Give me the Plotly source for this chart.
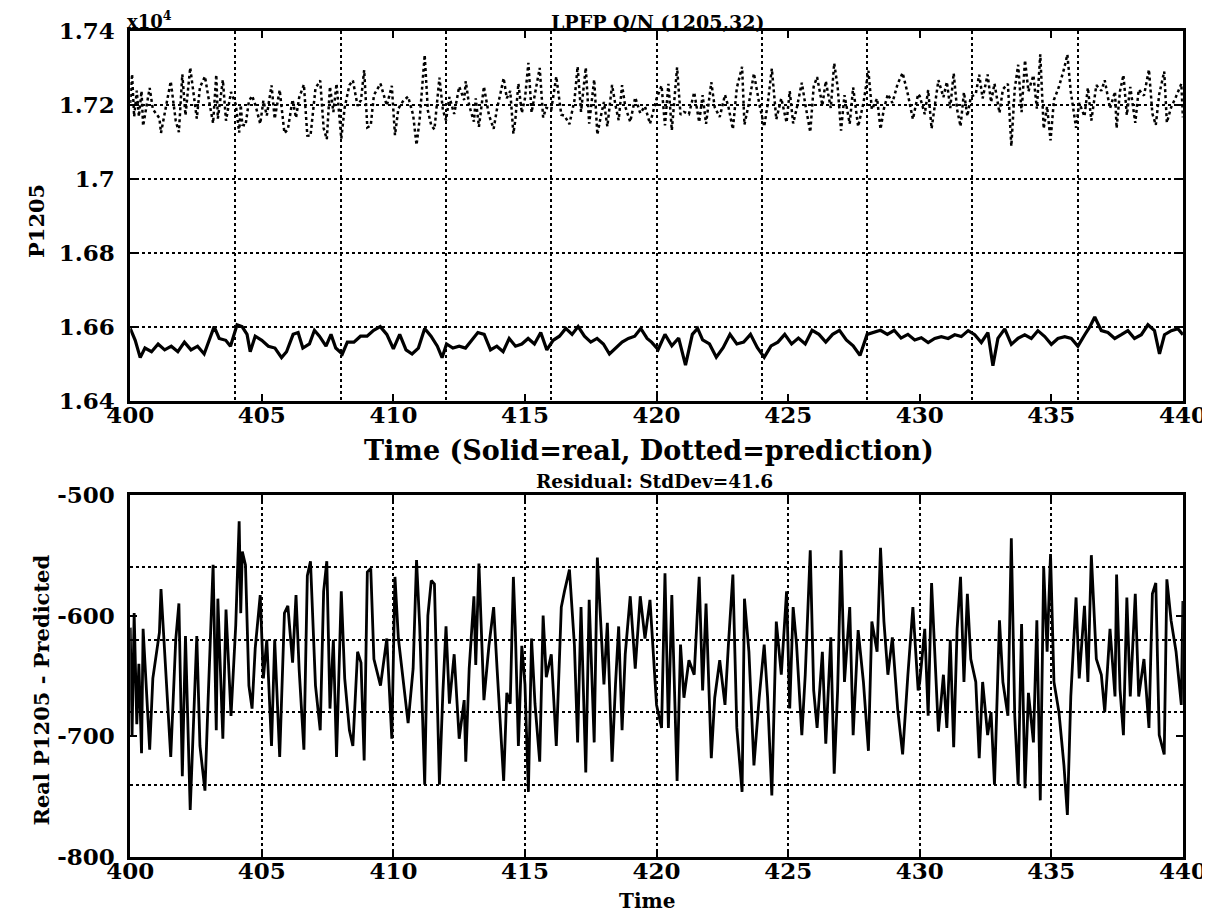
import numpy as np
import plotly.graph_objects as go

# ---------------- data ----------------
# Real P1205 (solid line, top panel): (time, value)
real_400_410 = [(400.00,16595),(400.19,16563),(400.38,16516),(400.56,16542),(400.81,16532),(401.06,16553),
    (401.31,16537),(401.56,16547),(401.81,16532),(402.06,16558),(402.31,16537),(402.56,16547),(402.81,16526),
    (403.06,16574),(403.19,16600),(403.38,16568),(403.63,16563),(403.81,16547),(404.06,16605),(404.25,16600),
    (404.44,16579),(404.56,16532),(404.75,16574),(405.00,16563),(405.25,16547),(405.50,16542),(405.75,16516),
    (405.94,16532),(406.19,16579),(406.38,16584),(406.56,16542),(406.81,16553),(407.00,16590),(407.19,16574),
    (407.44,16547),(407.63,16579),(407.81,16542),(408.06,16526),(408.25,16558),(408.50,16558),(408.75,16574),
    (409.00,16574),(409.25,16590),(409.50,16600),(409.75,16579)]
real_410_420 = [(410.00,16540),(410.24,16579),(410.48,16537),(410.71,16526),(410.95,16542),(411.19,16595),
    (411.43,16574),(411.67,16547),(411.85,16516),(412.02,16553),(412.26,16542),(412.50,16547),(412.74,16542),
    (412.98,16563),(413.21,16584),(413.45,16579),(413.69,16537),(413.93,16547),(414.17,16532),(414.40,16568),
    (414.64,16547),(414.88,16553),(415.12,16568),(415.36,16553),(415.60,16584),(415.83,16537),(416.07,16563),
    (416.31,16574),(416.55,16595),(416.79,16579),(417.02,16600),(417.26,16574),(417.50,16558),(417.74,16568),
    (417.98,16553),(418.21,16526),(418.45,16542),(418.69,16558),(418.93,16568),(419.17,16574),(419.40,16595),
    (419.64,16568),(419.81,16558)]
real_420_430 = [(420.06,16538),(420.32,16579),(420.58,16548),(420.84,16569),(421.10,16496),(421.36,16579),
    (421.56,16595),(421.75,16564),(422.01,16553),(422.27,16517),(422.53,16543),(422.79,16579),(423.05,16553),
    (423.31,16558),(423.57,16579),(423.83,16543),(424.09,16517),(424.35,16548),(424.61,16558),(424.87,16579),
    (425.13,16553),(425.39,16569),(425.65,16553),(425.91,16590),(426.17,16579),(426.43,16558),(426.69,16579),
    (426.95,16590),(427.21,16564),(427.47,16548),(427.73,16522),(428.00,16579),(428.25,16584),(428.51,16590),
    (428.77,16579),(429.03,16590),(429.29,16569),(429.55,16579),(429.81,16564)]
real_430_440 = [(430.06,16570),(430.32,16557),(430.57,16568),(430.82,16573),(431.08,16568),(431.33,16578),
    (431.58,16573),(431.84,16589),(432.09,16578),(432.34,16557),(432.59,16584),(432.78,16494),(432.97,16568),
    (433.23,16594),(433.48,16552),(433.73,16568),(433.99,16578),(434.24,16568),(434.49,16589),(434.75,16573),
    (435.00,16552),(435.25,16568),(435.51,16573),(435.76,16568),(436.01,16547),(436.27,16578),(436.46,16599),
    (436.65,16626),(436.90,16589),(437.15,16584),(437.41,16568),(437.66,16578),(437.91,16589),(438.16,16568),
    (438.42,16578),(438.67,16605),(438.92,16589),(439.11,16526),(439.30,16578),(439.56,16589),(439.81,16594),
    (440.00,16578)]

# Residual = Real P1205 - Predicted (bottom panel): (time, value)
res_400_410 = [(400.00,-610),(400.07,-700),(400.15,-598),(400.25,-690),(400.33,-640),(400.43,-714),(400.49,-611),
    (400.74,-711),(400.86,-652),(401.11,-614),(401.17,-578),(401.36,-652),(401.54,-717),(401.73,-620),
    (401.85,-590),(401.98,-733),(402.10,-617),(402.28,-761),(402.41,-683),(402.53,-617),(402.65,-708),
    (402.84,-745),(402.96,-670),(403.09,-598),(403.15,-558),(403.27,-695),(403.33,-586),(403.52,-702),
    (403.64,-595),(403.83,-683),(404.01,-608),(404.14,-522),(404.20,-598),(404.26,-547),(404.38,-558),
    (404.51,-658),(404.63,-677),(404.75,-627),(404.94,-583),(405.06,-652),(405.19,-620),(405.37,-708),
    (405.49,-620),(405.68,-717),(405.86,-598),(405.99,-592),(406.17,-639),(406.30,-583),(406.42,-645),
    (406.60,-711),(406.73,-567),(406.85,-555),(407.04,-658),(407.22,-695),(407.35,-580),(407.47,-555),
    (407.59,-677),(407.72,-620),(407.84,-717),(408.02,-580),(408.15,-652),(408.33,-695),(408.46,-708),
    (408.64,-630),(408.77,-639),(408.89,-720),(409.01,-564),(409.14,-561),(409.26,-636),(409.51,-658)]
res_410_420 = [(409.75,-619),(409.94,-702),(410.06,-568),(410.19,-619),(410.38,-657),(410.56,-689),(410.75,-644),
    (410.88,-554),(411.00,-609),(411.19,-740),(411.31,-600),(411.44,-571),(411.56,-574),(411.75,-740),
    (411.88,-664),(412.00,-609),(412.13,-673),(412.31,-632),(412.50,-702),(412.69,-670),(412.75,-721),
    (412.88,-644),(413.06,-584),(413.13,-641),(413.25,-557),(413.44,-670),(413.63,-625),(413.81,-593),
    (413.94,-644),(414.06,-689),(414.19,-737),(414.31,-664),(414.44,-673),(414.56,-568),(414.63,-609),
    (414.75,-708),(414.88,-625),(415.00,-657),(415.13,-746),(415.25,-619),(415.38,-673),(415.56,-721),
    (415.69,-600),(415.81,-651),(416.00,-632),(416.19,-708),(416.38,-593),(416.50,-580),(416.69,-562),
    (416.88,-625),(417.00,-705),(417.13,-593),(417.31,-730),(417.44,-587),(417.63,-705),(417.75,-552),
    (417.88,-609),(418.00,-657),(418.13,-606),(418.31,-721),(418.44,-657),(418.56,-609),(418.69,-695),
    (418.81,-632),(419.00,-584),(419.19,-644),(419.38,-584),(419.56,-619),(419.75,-587),(419.94,-657)]
res_420_430 = [(420.00,-674),(420.19,-693),(420.32,-565),(420.45,-693),(420.58,-583),(420.78,-737),(420.91,-624),
    (421.04,-668),(421.23,-637),(421.43,-649),(421.62,-568),(421.75,-662),(421.88,-590),(422.08,-718),
    (422.21,-668),(422.40,-637),(422.60,-674),(422.73,-624),(422.90,-566),(423.05,-693),(423.25,-746),
    (423.34,-586),(423.51,-630),(423.70,-724),(423.90,-668),(424.09,-624),(424.22,-668),(424.38,-749),
    (424.55,-605),(424.74,-649),(424.94,-580),(425.06,-677),(425.19,-593),(425.32,-624),(425.52,-699),
    (425.65,-649),(425.84,-546),(425.97,-662),(426.10,-693),(426.30,-630),(426.43,-706),(426.62,-618),
    (426.75,-731),(426.88,-662),(427.01,-546),(427.14,-655),(427.34,-593),(427.47,-699),(427.66,-612),
    (427.86,-655),(428.05,-712),(428.18,-605),(428.38,-630),(428.51,-544),(428.64,-605),(428.79,-649),
    (428.96,-618),(429.16,-677),(429.35,-715),(429.55,-649),(429.74,-593),(429.94,-662)]
res_430_440 = [(430.00,-655),(430.19,-611),(430.32,-683),(430.45,-573),(430.58,-630),(430.71,-696),(430.90,-649),
    (431.03,-693),(431.16,-620),(431.29,-709),(431.42,-611),(431.55,-568),(431.68,-655),(431.81,-582),
    (431.94,-636),(432.13,-655),(432.26,-718),(432.39,-655),(432.58,-699),(432.71,-680),(432.84,-740),
    (433.03,-604),(433.16,-655),(433.35,-683),(433.48,-536),(433.61,-683),(433.74,-740),(433.87,-607),
    (434.00,-743),(434.13,-664),(434.32,-705),(434.45,-604),(434.58,-753),(434.71,-560),(434.84,-630),
    (434.97,-549),(435.10,-655),(435.29,-680),(435.48,-724),(435.61,-765),(435.74,-667),(435.94,-585),
    (436.06,-652),(436.26,-592),(436.39,-655),(436.52,-550),(436.71,-636),(436.90,-649),(437.03,-680),
    (437.23,-611),(437.42,-667),(437.48,-566),(437.61,-661),(437.74,-699),(437.87,-585),(438.00,-667),
    (438.19,-582),(438.32,-667),(438.52,-636),(438.71,-693),(438.84,-582),(438.97,-573),(439.10,-699),
    (439.29,-715),(439.39,-570),(439.55,-604),(439.74,-630),(439.94,-674),(440.00,-588)]

# axis ticks / grid as drawn in the picture
top_xticks = [400, 405, 410, 415, 420, 425, 430, 435, 440]
top_xgrid = [404, 408, 412, 416, 420, 424, 428, 432, 436]
top_yticks = [16400, 16600, 16800, 17000, 17200, 17400]
top_yticklabels = ["1.64", "1.66", "1.68", "1.7", "1.72", "1.74"]
bot_xticks = [400, 405, 410, 415, 420, 425, 430, 435, 440]
bot_yticks = [-800, -700, -600, -500]
bot_yticklabels = ["-800", "-700", "-600", "-500"]
bot_ygrid = [-740, -680, -620, -560]

# ---------------- build series ----------------
real = real_400_410 + real_410_420 + real_420_430 + real_430_440
res = res_400_410 + res_410_420 + res_420_430 + res_430_440
t_real = np.array([p[0] for p in real]); v_real = np.array([p[1] for p in real])
t_res = np.array([p[0] for p in res]); v_res = np.array([p[1] for p in res])
# prediction = real - residual (definition used by the chart)
v_pred = np.interp(t_res, t_real, v_real) - v_res

FONT = "DejaVu Serif"
fig = go.Figure()
fig.add_trace(go.Scatter(x=t_res, y=v_pred, mode="lines",
                         line=dict(color="black", width=2.5, dash="dot"), xaxis="x", yaxis="y"))
fig.add_trace(go.Scatter(x=t_real, y=v_real, mode="lines",
                         line=dict(color="black", width=3.2), xaxis="x", yaxis="y"))
fig.add_trace(go.Scatter(x=t_res, y=v_res, mode="lines",
                         line=dict(color="black", width=2.8), xaxis="x2", yaxis="y2"))

tickfont = dict(family=FONT, size=23, color="black", weight="bold")
common_ax = dict(showline=True, linecolor="black", linewidth=2.5, mirror="ticks",
                 ticks="inside", ticklen=7, tickwidth=2, tickcolor="black",
                 tickfont=tickfont, zeroline=False, automargin=False)
grid = dict(gridcolor="black", griddash="dot", gridwidth=1.6)
XD = [0.101, 0.971]

fig.update_layout(
    width=1210, height=915, paper_bgcolor="white", plot_bgcolor="white",
    margin=dict(l=0, r=0, t=0, b=0), showlegend=False,
    xaxis=dict(domain=XD, anchor="y", range=[400, 440], tickmode="array", tickvals=top_xticks,
               showgrid=False, ticklabelstandoff=-8,
               minor=dict(tickmode="array", tickvals=top_xgrid, showgrid=True, ticks="", **grid),
               **common_ax),
    yaxis=dict(domain=[0.571, 0.975], anchor="x", range=[16400, 17400], tickmode="array",
               tickvals=top_yticks, ticktext=top_yticklabels, showgrid=True,
               ticklabelstandoff=8, **grid, **common_ax),
    xaxis2=dict(domain=XD, anchor="y2", range=[400, 440], tickmode="array", tickvals=bot_xticks,
                showgrid=True, ticklabelstandoff=-8, **grid, **common_ax),
    yaxis2=dict(domain=[0.072, 0.468], anchor="x2", range=[-800, -500], tickmode="array",
                tickvals=bot_yticks, ticktext=bot_yticklabels, showgrid=False, ticklabelstandoff=8,
                minor=dict(tickmode="array", tickvals=bot_ygrid, showgrid=True, ticks="", **grid),
                **common_ax),
)

def ann(text, x, y, size=21, angle=0, xanchor="center"):
    fig.add_annotation(text=text, x=x, y=y, xref="paper", yref="paper", showarrow=False,
                       textangle=angle, xanchor=xanchor, yanchor="middle",
                       font=dict(family=FONT, size=size, color="black", weight="bold"))

ann("LPFP Q/N (1205,32)", 0.537, 0.985, size=19)
ann("x10<sup>4</sup>", 0.097, 0.987, size=18, xanchor="left")
ann("Time (Solid=real, Dotted=prediction)", 0.530, 0.516, size=27)
ann("Residual: StdDev=41.6", 0.534, 0.482, size=18.5)
ann("Time", 0.528, 0.024, size=20)
ann("P1205", 0.023, 0.767, size=21, angle=-90)
ann("Real P1205 - Predicted", 0.028, 0.255, size=21, angle=-90)

fig.write_html("out.html")
